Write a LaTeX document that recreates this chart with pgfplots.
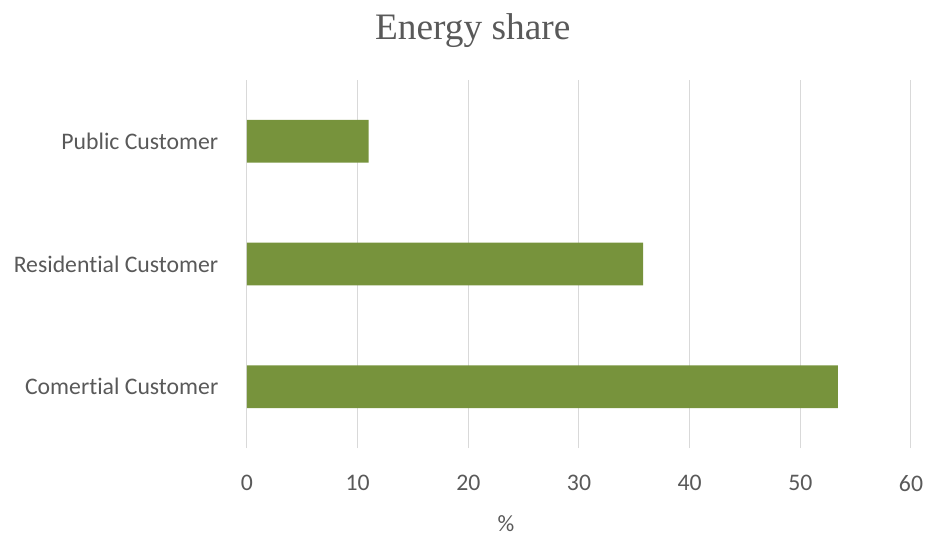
\documentclass[border=0pt]{standalone}
\usepackage{fontspec}
\setmainfont{Carlito}[Ligatures={NoCommon,NoDiscretionary,NoRare}]
\newfontfamily\titlefont{Liberation Serif}
\usepackage{pgfplots}
\pgfplotsset{compat=1.18}
\definecolor{barg}{HTML}{77933C}
\definecolor{txt}{HTML}{595959}
\definecolor{grd}{HTML}{D9D9D9}
\begin{document}
\begin{tikzpicture}
\useasboundingbox (-185.25pt,-68.25pt) rectangle (510pt,336pt);
\begin{axis}[
  at={(0,0)}, anchor=south west,
  scale only axis, width=498pt, height=276pt,
  xbar, bar width=32pt,
  xmin=0, xmax=60, xtick={0,10,...,60},
  ymin=-0.5, ymax=2.5, ytick={0,1,2},
  yticklabels={Comertial Customer,Residential Customer,Public Customer},
  axis line style={draw=none},
  major tick length=0pt,
  xmajorgrids, grid style={grd, line width=0.75pt},
  tick label style={font=\fontsize{17.8}{20}\selectfont, text=txt},
  /pgf/number format/assume math mode=true,
  xticklabel style={yshift=-17pt},
  yticklabel style={xshift=-18pt},
  xlabel={\%}, xlabel style={font=\fontsize{17.5}{20}\selectfont, text=txt, inner sep=0pt, at={(axis description cs:0.39,0)}, anchor=center, yshift=-57pt},
  title={Energy share},
  title style={font=\titlefont\fontsize{28}{32}\selectfont, text=txt, at={(axis description cs:0.34,1)}, anchor=center, yshift=31pt},
]
\addplot[fill=barg, draw=none] coordinates {(53.4,0) (35.8,1) (11.0,2)};
\end{axis}
\end{tikzpicture}
\end{document}
